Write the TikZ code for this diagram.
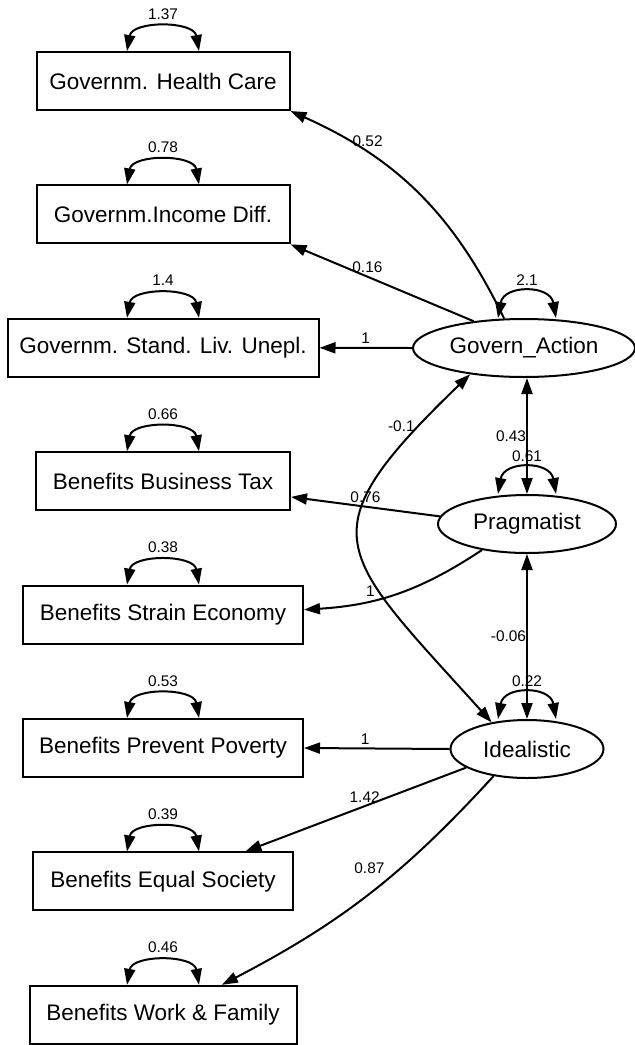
\documentclass[tikz,border=0pt]{standalone}
\usepackage{fontspec}
\setmainfont{Liberation Sans}
\usetikzlibrary{arrows.meta,positioning,shapes.geometric}

\tikzset{
  obs/.style={draw, rectangle, minimum height=29pt, inner sep=2pt, font=\fontsize{11.25}{13}\selectfont},
  lat/.style={draw, ellipse, minimum height=29pt, inner sep=0pt, font=\fontsize{11.25}{13}\selectfont},
  lbl/.style={font=\fontsize{7.7}{9}\selectfont, inner sep=1.5pt},
  var/.style={<->, looseness=1.1},
  latvar/.style={<->, looseness=1.5},
}

\begin{document}
\begin{tikzpicture}[x=0.5pt, y=0.5pt, line width=1pt, >={Triangle[length=8pt,width=5.5pt]}, node distance=66.7pt, on grid]
	\useasboundingbox (0,0) rectangle (635,-1045);
	% observed items
	\node[obs, minimum width=126.5pt] (hc) at (163,-81) {Governm. Health Care};
	\node[obs, minimum width=126.5pt] (incdiff) [below = of hc] {Governm.Income Diff.};
	\node[obs, minimum width=155.5pt] (standliv) [below = of incdiff] {Governm. Stand. Liv. Unepl.};
	\node[obs, minimum width=127pt] (bustax) [below = of standliv] {Benefits Business Tax};
	\node[obs, minimum width=140pt] (strain) [below = of bustax] {Benefits Strain Economy};
	\node[obs, minimum width=140pt] (poverty) [below = of strain] {Benefits Prevent Poverty};
	\node[obs, minimum width=130pt] (equal) [below = of poverty] {Benefits Equal Society};
	\node[obs, minimum width=133.5pt] (workfam) [below = of equal] {Benefits Work \& Family};
	% latent factors
	\node[lat, minimum width=111pt] (govact) at (524,-348) {Govern\_Action};
	\node[lat, minimum width=89pt] (prag) at (527,-524) {Pragmatist};
	\node[lat, minimum width=76.5pt] (ideal) at (527,-749) {Idealistic};
	% variances
	\foreach \n/\v in {hc/1.37, incdiff/0.78, standliv/1.4, bustax/0.66, strain/0.38, poverty/0.53, equal/0.39, workfam/0.46}
		\draw[var] ([xshift=-18pt]\n.north) to[out=80, in=100] node[lbl, above=2.5pt] {\v} ([xshift=18pt]\n.north);
	\draw[latvar] ([xshift=-13pt]govact.north) to[out=80, in=100] node[lbl, above=1.5pt] {2.1} ([xshift=16pt]govact.north);
	\draw[latvar] ([xshift=-14.5pt]prag.north) to[out=80, in=100] node[lbl, above=1.5pt] {0.61} ([xshift=14.5pt]prag.north);
	\draw[latvar] ([xshift=-14.5pt]ideal.north) to[out=80, in=100] node[lbl, above=1.5pt] {0.22} ([xshift=14.5pt]ideal.north);
	% loadings and covariances
	\path[->]
	(govact.124) edge [bend right=20] node[lbl, pos=0.8, right] {0.52} (hc.south east)
	(govact.152) edge node[lbl, pos=0.58, above] {0.16} (incdiff.south east)
	(govact.west) edge node[lbl, above] {1} (standliv.east)
	(prag.north |- govact.south) edge [<->] node[lbl, left, inner sep=0pt] {0.43} (prag.north)
	(govact.206) edge [<->, out=224, in=132, looseness=1.7] node[lbl, pos=0.12, left] {-0.1} (ideal.143)
	(prag.175) edge node[lbl, above] {0.76} (bustax.-7)
	(prag.210) edge [bend left=15] node[lbl, pos=0.66, above] {1} (strain.2)
	(ideal.north |- prag.south) edge [<->] node[lbl, left, inner sep=0pt] {-0.06} (ideal.north)
	(ideal.west) edge node[lbl, pos=0.58, above] {1} (poverty.east)
	(ideal.197) edge node[lbl, pos=0.46, above] {1.42} (equal.20)
	(ideal.219) edge [bend left=10] node[lbl, pos=0.37, left=6pt] {0.87} (workfam.27);
\end{tikzpicture}
\end{document}
